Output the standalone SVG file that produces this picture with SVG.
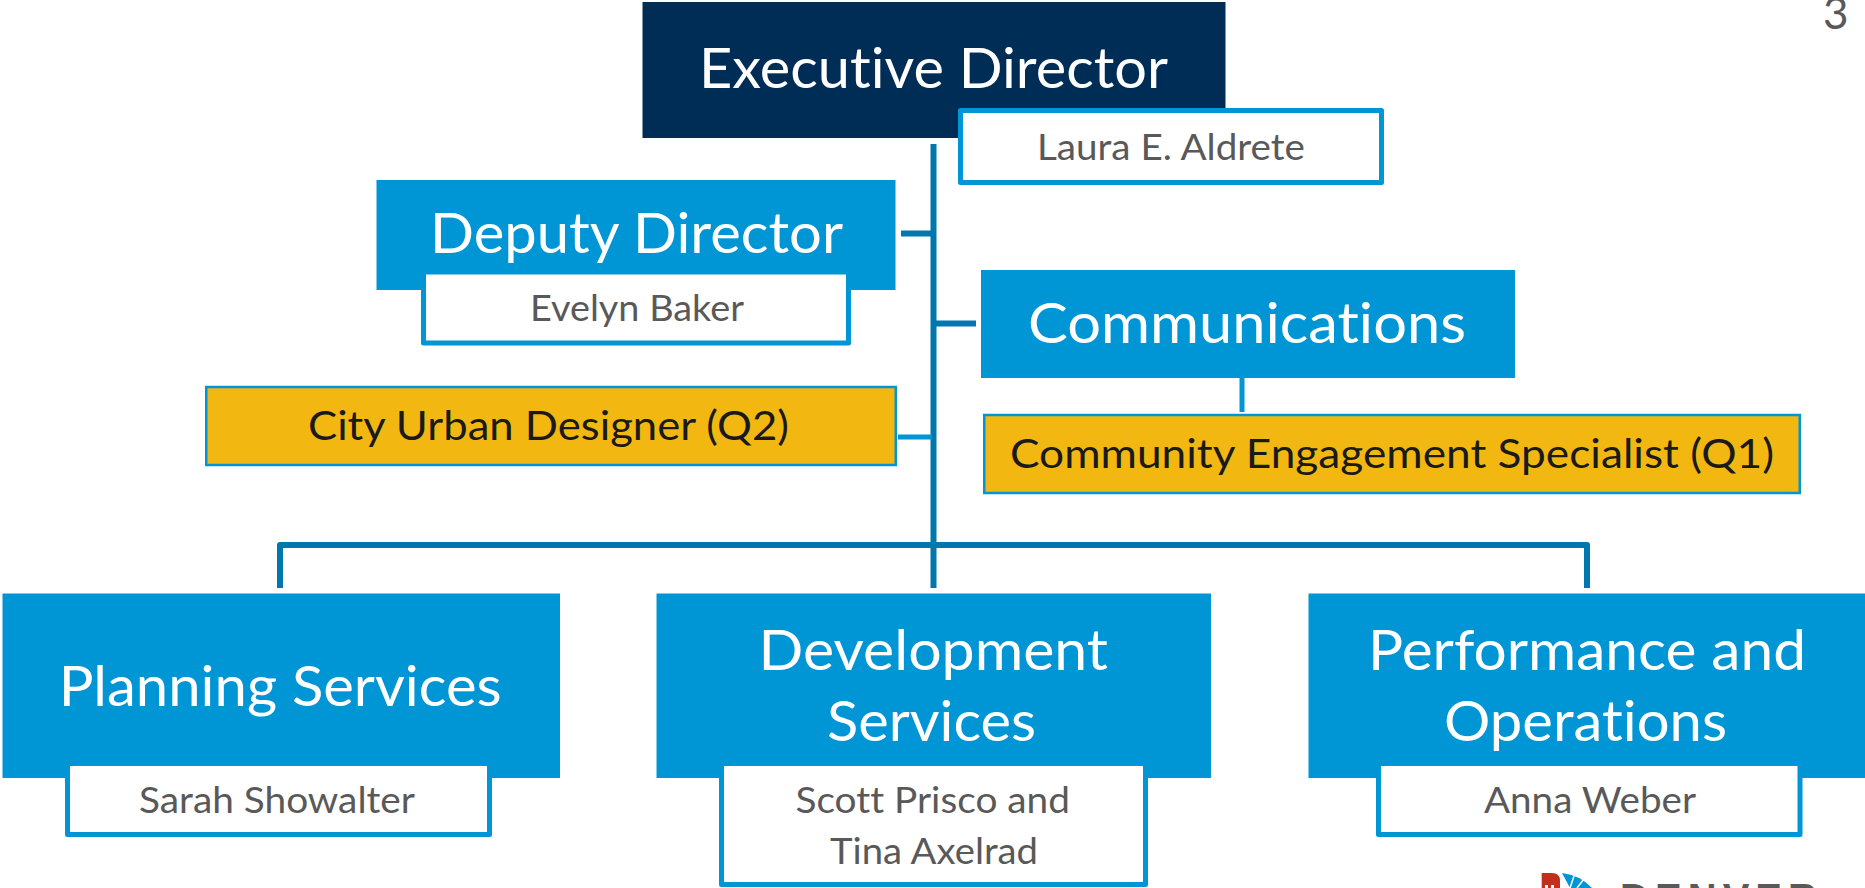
<svg xmlns="http://www.w3.org/2000/svg" width="1865" height="888" viewBox="0 0 1865 888">
<style>
text{font-family:Lato,"Open Sans","Liberation Sans",sans-serif;font-variant-ligatures:none;}
.blue{fill:#0096d6}
.navy{fill:#002d56}
.sub{fill:#fff;stroke:#0096d6;stroke-width:5;stroke-linejoin:round}
.gold{fill:#f2b811;stroke:#0096d6;stroke-width:2.5}
.h{font-size:56px;fill:#fff}
.s{font-size:37px;fill:#595959}
.g{font-size:41px;fill:#1a1a1a}
.c{fill:none;stroke:#0077ad;stroke-width:6;stroke-linejoin:round}
.l{fill:none;stroke:#0096d6;stroke-width:5}
</style>
<rect width="1865" height="888" fill="#fff"/>
<g id="connectors">
<path class="c" d="M933.500 144V588"/>
<path class="c" d="M901 233.500H933"/>
<path class="c" d="M934 323.500H976"/>
<path class="c" d="M280 588V545H1587V588"/>
<path class="l" d="M898 437H932"/>
<path class="l" d="M1242 378V412"/>
</g>
<g id="executive-director">
<rect class="navy" x="642.500" y="2" width="583" height="136"/>
<text class="h" x="699" y="88" textLength="469" lengthAdjust="spacingAndGlyphs">Executive Director</text>
<rect class="sub" x="960.500" y="110.500" width="421" height="72"/>
<text class="s" x="1037" y="160" textLength="268" lengthAdjust="spacingAndGlyphs">Laura E. Aldrete</text>
</g>
<g id="deputy-director">
<rect class="blue" x="376.500" y="180" width="519" height="110"/>
<text class="h" x="430" y="252.500" textLength="413" lengthAdjust="spacingAndGlyphs">Deputy Director</text>
<rect class="sub" x="423.500" y="272" width="425" height="71"/>
<text class="s" x="530" y="320.500" textLength="214" lengthAdjust="spacingAndGlyphs">Evelyn Baker</text>
</g>
<g id="communications">
<rect class="blue" x="981" y="270" width="534" height="108"/>
<text class="h" x="1028" y="342.500" textLength="438" lengthAdjust="spacingAndGlyphs">Communications</text>
</g>
<g id="city-urban-designer">
<rect class="gold" x="206.250" y="387" width="689.500" height="78"/>
<text class="g" x="308" y="440" textLength="481" lengthAdjust="spacingAndGlyphs">City Urban Designer (Q2)</text>
</g>
<g id="community-engagement-specialist">
<rect class="gold" x="984.250" y="415" width="815.500" height="78"/>
<text class="g" x="1010" y="468" textLength="764" lengthAdjust="spacingAndGlyphs">Community Engagement Specialist (Q1)</text>
</g>
<g id="planning-services">
<rect class="blue" x="2.500" y="593.500" width="557.500" height="184.500"/>
<text class="h" x="58.700" y="705.500" textLength="443" lengthAdjust="spacingAndGlyphs">Planning Services</text>
<rect class="sub" x="67.500" y="763.500" width="422" height="71"/>
<text class="s" x="139" y="813" textLength="276" lengthAdjust="spacingAndGlyphs">Sarah Showalter</text>
</g>
<g id="development-services">
<rect class="blue" x="656.500" y="593.500" width="554.500" height="184.500"/>
<text class="h" x="758.500" y="670" textLength="349.500" lengthAdjust="spacingAndGlyphs">Development</text>
<text class="h" x="827" y="740.500" textLength="209" lengthAdjust="spacingAndGlyphs">Services</text>
<rect class="sub" x="721.500" y="763.500" width="424" height="121"/>
<text class="s" x="795.500" y="813" textLength="274.500" lengthAdjust="spacingAndGlyphs">Scott Prisco and</text>
<text class="s" x="830" y="864" textLength="208" lengthAdjust="spacingAndGlyphs">Tina Axelrad</text>
</g>
<g id="performance-and-operations">
<rect class="blue" x="1308.500" y="593.500" width="556.500" height="184.500"/>
<text class="h" x="1368" y="670" textLength="438" lengthAdjust="spacingAndGlyphs">Performance and</text>
<text class="h" x="1444" y="740.500" textLength="283" lengthAdjust="spacingAndGlyphs">Operations</text>
<rect class="sub" x="1378.500" y="763.500" width="421.500" height="71"/>
<text class="s" x="1484" y="813" textLength="212" lengthAdjust="spacingAndGlyphs">Anna Weber</text>
</g>
<text x="1823" y="29" font-size="44" fill="#595959">3</text>
<g id="logo">
<path d="M1541.700 888V873H1552Q1560 873 1560 881V888Z" fill="#c1301c"/>
<rect x="1545" y="885" width="3" height="3" fill="#fff"/>
<rect x="1551" y="885" width="3" height="3" fill="#fff"/>
<path d="M1562 873Q1580 875 1592 888H1570Z" fill="#0096d6"/>
<path d="M1570 888L1574 876M1577 888L1584 879" fill="none" stroke="#fff" stroke-width="1.500"/>
<text x="1620" y="912" font-size="40" font-weight="700" fill="#595959" style="font-family:'Liberation Sans',sans-serif" textLength="197" lengthAdjust="spacing">DENVER</text>
</g>
</svg>
